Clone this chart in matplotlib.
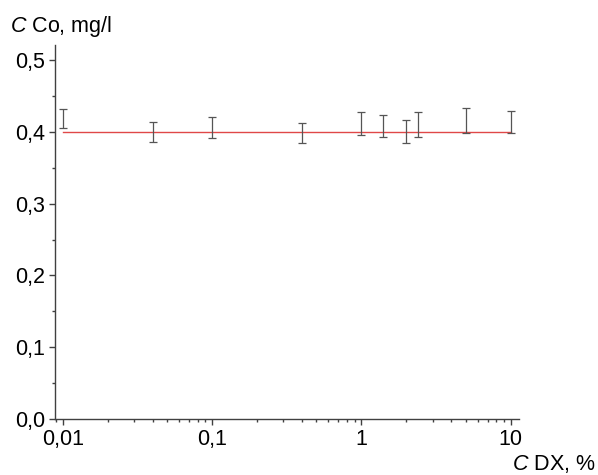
import numpy as np
import matplotlib
matplotlib.use("Agg")
import matplotlib.pyplot as plt
from matplotlib.ticker import FixedLocator, FuncFormatter, MultipleLocator, LogLocator, NullFormatter

plt.rcParams["font.family"] = ["Liberation Sans", "DejaVu Sans"]
plt.rcParams["mathtext.fontset"] = "custom"
plt.rcParams["mathtext.rm"] = "Liberation Sans"
plt.rcParams["mathtext.it"] = "Liberation Sans:italic"

# DX concentration, %
c_dx = [0.01, 0.04, 0.1, 0.4, 1, 1.4, 2, 2.4, 5, 10]
# found Co, mg/l and its spread
c_co = [0.419, 0.400, 0.406, 0.399, 0.412, 0.408, 0.400, 0.410, 0.416, 0.414]
c_err = [0.013, 0.014, 0.0145, 0.014, 0.016, 0.015, 0.016, 0.017, 0.017, 0.015]
# introduced Co level
ref_x = [0.01, 10]
ref_y = [0.4, 0.4]
xticks = [0.01, 0.1, 1, 10]
yticks = [0.0, 0.1, 0.2, 0.3, 0.4, 0.5]

fig = plt.figure(figsize=(5.98, 4.75), dpi=100)
ax = fig.add_axes([0.0928, 0.1179, 0.7746, 0.7874])

ax.plot(ref_x, ref_y, color="#e04848", lw=1.0, zorder=2)
ax.errorbar(c_dx, c_co, yerr=c_err, fmt="none", ecolor="#555555",
            elinewidth=0.9, capsize=2.6, capthick=0.9, zorder=3)

ax.set_xscale("log")
ax.set_xlim(0.00895, 11.3)
ax.set_ylim(0, 0.521)

for s in ["top", "right"]:
    ax.spines[s].set_visible(False)
for s in ["left", "bottom"]:
    ax.spines[s].set_color("#404040")
    ax.spines[s].set_linewidth(1.0)

def comma(v, pos):
    s = f"{v:g}"
    return s.replace(".", ",")

ax.xaxis.set_major_locator(FixedLocator(xticks))
ax.xaxis.set_major_formatter(FuncFormatter(comma))
ax.xaxis.set_minor_locator(LogLocator(base=10, subs=np.arange(2, 10)))
ax.xaxis.set_minor_formatter(NullFormatter())
ax.yaxis.set_major_locator(FixedLocator(yticks))
ax.yaxis.set_major_formatter(FuncFormatter(lambda v, p: f"{v:.1f}".replace(".", ",")))
ax.yaxis.set_minor_locator(MultipleLocator(0.05))

ax.tick_params(which="major", direction="out", length=4, width=1.0,
               color="#404040", labelsize=15.5, pad=3.5)
ax.tick_params(which="minor", direction="out", length=2.5, width=1.0,
               color="#404040")

fig.text(10 / 598, 1 - 32 / 475, r"$\mathit{C}$ Co, mg/l", fontsize=15.5,
         ha="left", va="baseline")
fig.text(596 / 598, 1 - 470 / 475, r"$\mathit{C}$ DX, %", fontsize=15.5,
         ha="right", va="baseline")

fig.savefig("out.png", dpi=100, facecolor="white")
